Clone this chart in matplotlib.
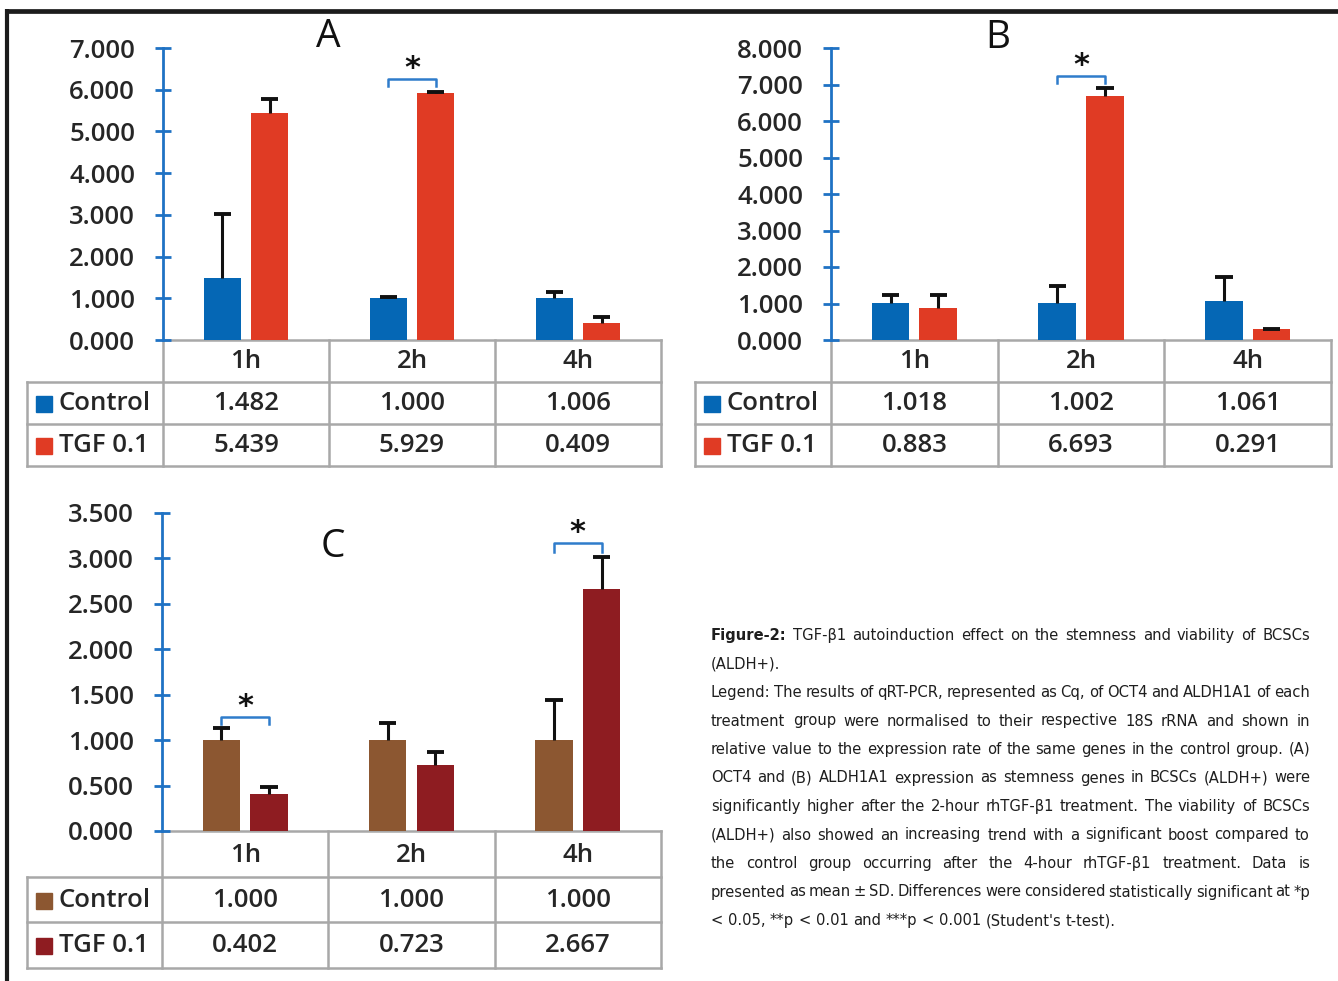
import numpy as np
import matplotlib
matplotlib.use("Agg")
import matplotlib.pyplot as plt
from matplotlib import font_manager
from matplotlib.ticker import FormatStrFormatter, MultipleLocator

plt.rcParams['font.family'] = ['Open Sans', 'DejaVu Sans']

W, H = 1338, 981

times = ["1h", "2h", "4h"]
series = ["Control", "TGF 0.1"]

# panel A
a_ctrl = [1.482, 1.000, 1.006]
a_tgf = [5.439, 5.929, 0.409]
a_ctrl_sd = [1.53, 0.04, 0.14]
a_tgf_sd = [0.34, 0.02, 0.15]
# panel B
b_ctrl = [1.018, 1.002, 1.061]
b_tgf = [0.883, 6.693, 0.291]
b_ctrl_sd = [0.21, 0.48, 0.67]
b_tgf_sd = [0.35, 0.22, 0.02]
# panel C
c_ctrl = [1.000, 1.000, 1.000]
c_tgf = [0.402, 0.723, 2.667]
c_ctrl_sd = [0.13, 0.19, 0.445]
c_tgf_sd = [0.085, 0.15, 0.35]

# significance brackets: (category, top, leg end)
a_sig = [(1, 6.26, 6.08)]
b_sig = [(1, 7.23, 7.04)]
c_sig = [(0, 1.255, 1.18), (2, 3.17, 3.07)]

blue = '#0567B5'
red = '#E03B24'
brown = '#8C5731'
darkred = '#8E1C21'
axblue = '#1F72C4'
grid = '#A8A8A8'
txt = '#262626'

caption = [
    ("Figure-2: TGF-β1 autoinduction effect on the stemness and viability of BCSCs", True),
    ("(ALDH+).", False),
    ("Legend: The results of qRT-PCR, represented as Cq, of OCT4 and ALDH1A1 of each", True),
    ("treatment group were normalised to their respective 18S rRNA and shown in", True),
    ("relative value to the expression rate of the same genes in the control group. (A)", True),
    ("OCT4 and (B) ALDH1A1 expression as stemness genes in BCSCs (ALDH+) were", True),
    ("significantly higher after the 2-hour rhTGF-β1 treatment. The viability of BCSCs", True),
    ("(ALDH+) also showed an increasing trend with a significant boost compared to", True),
    ("the control group occurring after the 4-hour rhTGF-β1 treatment. Data is", True),
    ("presented as mean ± SD. Differences were considered statistically significant at *p", True),
    ("< 0.05, **p < 0.01 and ***p < 0.001 (Student's t-test).", False),
]

fig = plt.figure(figsize=(W / 100, H / 100), dpi=100)
ov = fig.add_axes([0, 0, 1, 1])
ov.set_xlim(0, W)
ov.set_ylim(H, 0)
ov.axis('off')

# frame lines top and left
ov.plot([5, W], [11, 11], color='#1c1c1c', lw=3.4, solid_capstyle='butt')
ov.plot([7, 7], [9, H], color='#1c1c1c', lw=3.0, solid_capstyle='butt')

panels = [
    dict(box=(163, 661, 48, 340), lab=27, rows=(340, 382, 424, 466), ymax=7, step=1,
         ctrl=a_ctrl, tgf=a_tgf, csd=a_ctrl_sd, tsd=a_tgf_sd, sig=a_sig,
         colors=(blue, red), letter='A', lpos=(328, 37)),
    dict(box=(831, 1331, 48, 340), lab=695, rows=(340, 382, 424, 466), ymax=8, step=1,
         ctrl=b_ctrl, tgf=b_tgf, csd=b_ctrl_sd, tsd=b_tgf_sd, sig=b_sig,
         colors=(blue, red), letter='B', lpos=(998, 38)),
    dict(box=(162, 661, 513, 831), lab=27, rows=(831, 877, 922, 968), ymax=3.5, step=0.5,
         ctrl=c_ctrl, tgf=c_tgf, csd=c_ctrl_sd, tsd=c_tgf_sd, sig=c_sig,
         colors=(brown, darkred), letter='C', lpos=(333, 547)),
]

x = np.arange(len(times))
off, bw, capw = 0.143, 0.225, 0.052

for p in panels:
    x0, x1, y0, y1 = p['box']
    ax = fig.add_axes([x0 / W, 1 - y1 / H, (x1 - x0) / W, (y1 - y0) / H])
    ax.patch.set_visible(False)
    c1, c2 = p['colors']
    ax.bar(x - off, p['ctrl'], bw, color=c1, zorder=2)
    ax.bar(x + off, p['tgf'], bw, color=c2, zorder=2)
    # upper error bars only
    for xs, ys, sds in ((x - off, p['ctrl'], p['csd']), (x + off, p['tgf'], p['tsd'])):
        tops = np.array(ys) + np.array(sds)
        ax.vlines(xs, ys, tops, color='#111111', lw=2.2, zorder=3)
        ax.hlines(tops, xs - capw, xs + capw, color='#111111', lw=2.8, zorder=3)
    for i, top, leg in p['sig']:
        ax.plot([i - off, i - off, i + off, i + off], [leg, top, top, leg], color='#2F7CCB',
                lw=1.8, solid_joinstyle='round', clip_on=False, zorder=4)
        ax.annotate('*', xy=(i, top), xytext=(0, -3), textcoords='offset points', ha='center',
                    va='bottom', fontsize=22, fontweight='bold', color='#111111',
                    family='DejaVu Sans', annotation_clip=False)
    ax.set_xlim(-0.5, 2.5)
    ax.set_ylim(0, p['ymax'])
    ax.yaxis.set_major_locator(MultipleLocator(p['step']))
    ax.yaxis.set_major_formatter(FormatStrFormatter('%.3f'))
    ax.set_xticks([])
    for s in ('top', 'right', 'bottom'):
        ax.spines[s].set_visible(False)
    ax.spines['left'].set_color(axblue)
    ax.spines['left'].set_linewidth(2.0)
    ax.tick_params(axis='y', direction='inout', length=12, width=2.0, color=axblue,
                   pad=14, labelsize=18.5, labelcolor=txt)
    for lbl in ax.get_yticklabels():
        lbl.set_fontweight('semibold')

    # data table under the axis
    r = p['rows']
    edges = np.linspace(x0, x1, len(times) + 1)
    lk = dict(color=grid, lw=1.8, solid_capstyle='projecting')
    ov.plot([x0, x1], [r[0], r[0]], **lk)
    for yy in r[1:]:
        ov.plot([p['lab'], x1], [yy, yy], **lk)
    ov.plot([p['lab'], p['lab']], [r[1], r[3]], **lk)
    for xx in edges:
        ov.plot([xx, xx], [r[0], r[3]], **lk)
    tk = dict(ha='center', va='center', fontsize=18.5, color=txt, fontweight='semibold')
    for j, t in enumerate(times):
        cx = (edges[j] + edges[j + 1]) / 2
        ov.text(cx, (r[0] + r[1]) / 2 + 1, t, **tk)
        ov.text(cx, (r[1] + r[2]) / 2 + 1, '%.3f' % p['ctrl'][j], **tk)
        ov.text(cx, (r[2] + r[3]) / 2 + 1, '%.3f' % p['tgf'][j], **tk)
    for k, (name, col) in enumerate(zip(series, (c1, c2))):
        cy = (r[k + 1] + r[k + 2]) / 2
        ov.add_patch(plt.Rectangle((p['lab'] + 9, cy - 7), 16, 16, color=col))
        ov.text(p['lab'] + 32, cy + 1, name, ha='left', va='center', fontsize=18.5,
                color=txt, fontweight='semibold')
    ov.text(p['lpos'][0], p['lpos'][1], p['letter'], ha='center', va='center',
            fontsize=28, color='#111111')

# caption font: a narrow face if there is one
names = {(f.name, f.stretch) for f in font_manager.fontManager.ttflist}
cap_kw = dict(family=['Liberation Sans', 'DejaVu Sans'])
if any(n == 'Liberation Sans Narrow' for n, s in names):
    cap_kw = dict(family=['Liberation Sans Narrow', 'DejaVu Sans'])
elif ('DejaVu Sans', 'condensed') in names:
    cap_kw = dict(family=['DejaVu Sans'], fontstretch='condensed')

left, right = 711, 1310
base0, lstep = 640, 28.5
rend = fig.canvas.get_renderer()


def width_of(s, size, bold=False):
    t = ov.text(0, 0, s, fontsize=size, fontweight='bold' if bold else 'normal', **cap_kw)
    w = t.get_window_extent(renderer=rend).width
    t.remove()
    return w


# shrink the caption size until every justified line fits with some space
size = 14.0
while size > 8:
    sp = width_of('a a', size) - width_of('aa', size)
    ok = True
    for n, (line, just) in enumerate(caption):
        wds = line.split(' ')
        tot = sum(width_of(wd, size, bold=(n == 0 and k == 0)) for k, wd in enumerate(wds))
        if tot + 0.55 * sp * (len(wds) - 1) > right - left:
            ok = False
            break
    if ok:
        break
    size -= 0.25

sp = width_of('a a', size) - width_of('aa', size)
for n, (line, just) in enumerate(caption):
    yb = base0 + n * lstep
    words = line.split(' ')
    objs = []
    for k, wd in enumerate(words):
        bold = (n == 0 and k == 0)
        t = ov.text(0, yb, wd, ha='left', va='baseline', fontsize=size, color='#1e1e1e',
                    fontweight='bold' if bold else 'normal', **cap_kw)
        objs.append(t)
    widths = [t.get_window_extent(renderer=rend).width for t in objs]
    if just and len(words) > 1:
        gap = (right - left - sum(widths)) / (len(words) - 1)
    else:
        gap = sp
    xx = left
    for t, wdt in zip(objs, widths):
        t.set_x(xx)
        xx += wdt + gap

fig.savefig('out.png', dpi=100)
